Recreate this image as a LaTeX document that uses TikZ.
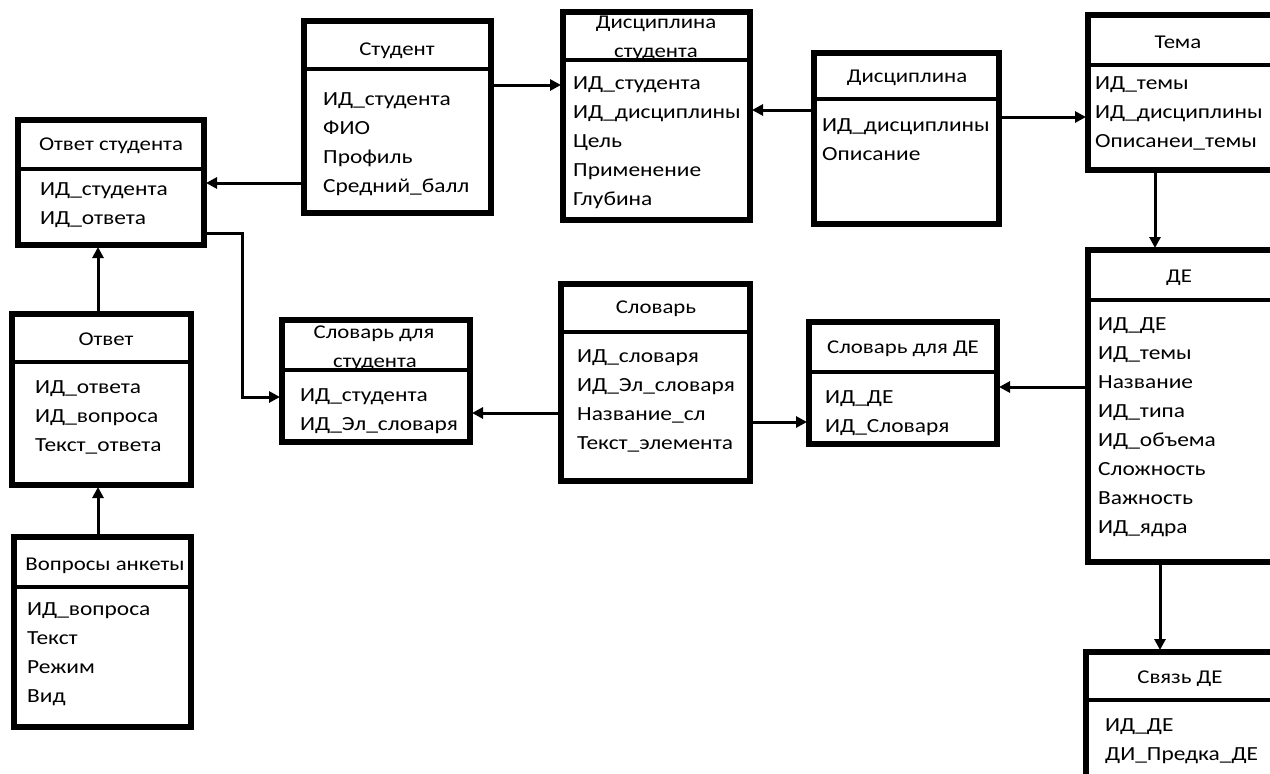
\documentclass[tikz,border=0pt]{standalone}
\usepackage{fontspec}
\setmainfont{Carlito}[FakeStretch=1.17]
\usetikzlibrary{arrows.meta}

\tikzset{
  ebox/.style={draw, line width=5.5pt, inner sep=0pt, outer sep=0pt},
  sepline/.style={line width=4.5pt},
  conn/.style={line width=3pt, shorten >=2pt, -{Triangle[length=11pt,width=11pt]}},
  ttl/.style={font=\fontsize{19.5}{24}\selectfont, inner sep=0pt, anchor=base},
  fld/.style={font=\fontsize{20}{24}\selectfont, inner sep=0pt, anchor=base west},
}

% table frame: name, x1, y1, x2, y2, y of the line under the header
\newcommand\entity[6]{%
  \node[ebox, minimum width={(#4-#2)*1pt}, minimum height={(#5-#3)*1pt}] (#1) at ({(#2+#4)/2},{(#3+#5)/2}) {};
  \draw[sepline] (#1.west |- 0,#6) -- (#1.east |- 0,#6);
}
% column list: name, x, first baseline, entries
\newcommand\fields[4]{%
  \foreach \t [count=\i] in {#4} \node[fld] (#1-f\i) at (#2,{#3+29*(\i-1)}) {\t};
}

\begin{document}
\begin{tikzpicture}[x=1pt,y=-1pt]
\useasboundingbox (0,0) rectangle (1270,774);
\fill[white] (0,0) rectangle (1270,774);
\clip (0,0) rectangle (1270,774);

% headers
\node[ttl] (otvstud-t) at (111,150) {Ответ студента};
\node[ttl] (stud-t) at (397,55) {Студент};
\node[ttl] (discstud-t1) at (656,28) {Дисциплина};
\node[ttl] (discstud-t2) at (656,57) {студента};
\node[ttl] (disc-t) at (907,82) {Дисциплина};
\node[ttl] (tema-t) at (1178,48) {Тема};
\node[ttl] (de-t) at (1179,282) {ДЕ};
\node[ttl] (svyaz-t) at (1180,683) {Связь ДЕ};
\node[ttl] (slovde-t) at (903,353) {Словарь для ДЕ};
\node[ttl] (slov-t) at (656,313) {Словарь};
\node[ttl] (slovstud-t1) at (374,338) {Словарь для};
\node[ttl] (slovstud-t2) at (375,367) {студента};
\node[ttl] (otv-t) at (106,345) {Ответ};
\node[ttl] (vopr-t) at (105,570) {Вопросы анкеты};

% columns
\fields{otvstud}{40}{195}{ИД\_студента, ИД\_ответа}
\fields{stud}{323}{105}{ИД\_студента, ФИО, Профиль, Средний\_балл}
\fields{discstud}{573}{89}{ИД\_студента, ИД\_дисциплины, Цель, Применение, Глубина}
\fields{disc}{822}{131}{ИД\_дисциплины, Описание}
\fields{tema}{1095}{89}{ИД\_темы, ИД\_дисциплины, Описанеи\_темы}
\fields{de}{1098}{330}{ИД\_ДЕ, ИД\_темы, Название, ИД\_типа, ИД\_объема, Сложность, Важность, ИД\_ядра}
\fields{svyaz}{1105}{731}{ИД\_ДЕ, ДИ\_Предка\_ДЕ}
\fields{slovde}{825}{403}{ИД\_ДЕ, ИД\_Словаря}
\fields{slov}{577}{362}{ИД\_словаря, ИД\_Эл\_словаря, Название\_сл, Текст\_элемента}
\fields{slovstud}{300}{401}{ИД\_студента, ИД\_Эл\_словаря}
\fields{otv}{35}{393}{ИД\_ответа, ИД\_вопроса, Текст\_ответа}
\fields{vopr}{27}{615}{ИД\_вопроса, Текст, Режим, Вид}

% frames
\entity{otvstud}{18}{120}{204}{245}{169}
\entity{stud}{304}{21}{491}{213}{69}
\entity{discstud}{563}{12}{750}{220}{60}
\entity{disc}{814}{53}{999}{224}{99}
\entity{tema}{1088}{15}{1300}{170}{65}
\entity{de}{1088}{250}{1300}{562}{300}
\entity{svyaz}{1086}{652}{1300}{800}{700}
\entity{slovde}{809}{322}{997}{444}{372}
\entity{slov}{561}{284}{750}{481}{332}
\entity{slovstud}{282}{320}{470}{442}{370}
\entity{otv}{12}{314}{191}{485}{362}
\entity{vopr}{14}{537}{191}{727}{587}

% links
\coordinate (bendA) at (242,397);
\draw[conn] (stud.west |- 0,183) -- (otvstud.east |- 0,183);
\draw[conn] (otvstud.east |- 0,233) -| (bendA) -- (slovstud.west |- bendA);
\draw[conn] (otv.north -| 98,0) -- (otvstud.south -| 98,0);
\draw[conn] (vopr.north -| 98,0) -- (otv.south -| 98,0);
\draw[conn] (stud.east |- 0,85) -- (discstud.west |- 0,85);
\draw[conn] (disc.west |- 0,110) -- (discstud.east |- 0,110);
\draw[conn] (disc.east |- 0,117) -- (tema.west |- 0,117);
\draw[conn] (tema.south -| 1155,0) -- (de.north -| 1155,0);
\draw[conn] (de.west |- 0,387) -- (slovde.east |- 0,387);
\draw[conn] (slov.east |- 0,422) -- (slovde.west |- 0,422);
\draw[conn] (slov.west |- 0,413) -- (slovstud.east |- 0,413);
\draw[conn] (de.south -| 1160,0) -- (svyaz.north -| 1160,0);
\end{tikzpicture}
\end{document}
